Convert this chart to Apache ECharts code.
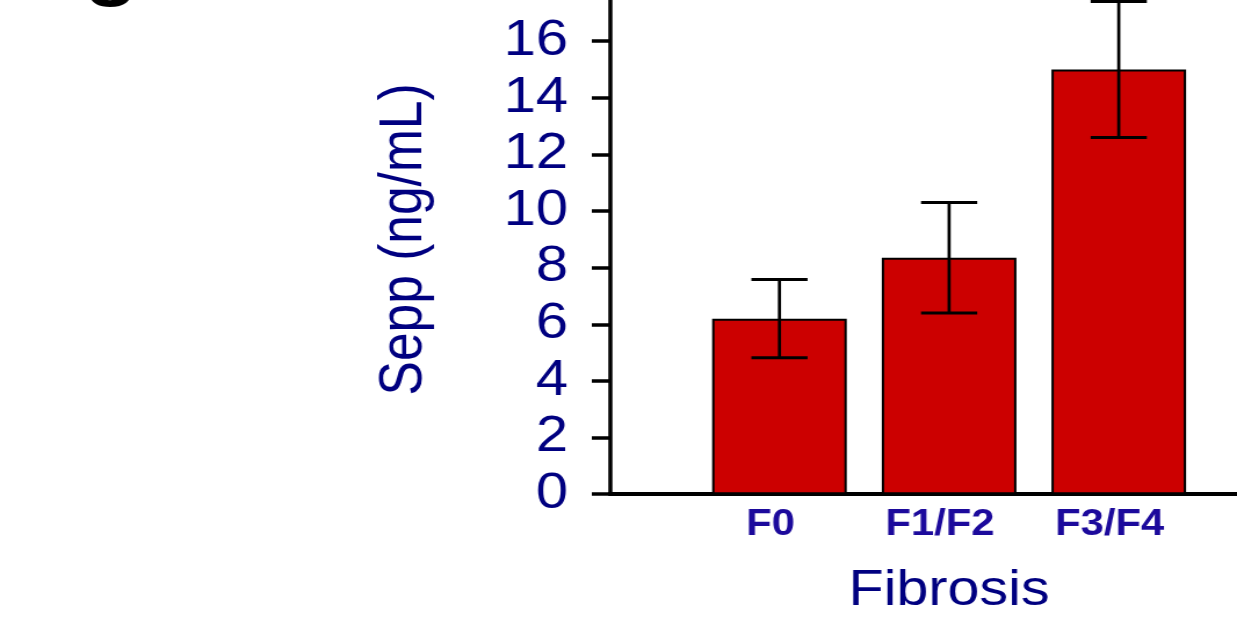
<!DOCTYPE html>
<html>
<head>
<meta charset="utf-8">
<title>Sepp by fibrosis stage</title>
<script src="https://cdn.jsdelivr.net/npm/echarts@6/dist/echarts.min.js"></script>
<style>
  html, body { margin: 0; padding: 0; background: #ffffff; overflow: hidden; }
  #wrap { position: absolute; left: 0; top: 0; width: 1237px; height: 617px; overflow: hidden; }
  /* the figure is drawn on a narrower canvas and widened horizontally */
  #chart { position: absolute; left: 0; top: 0; width: 1066px; height: 617px;
           transform: scaleX(1.16041); transform-origin: 0 0; }
</style>
</head>
<body>
<div id="wrap"><div id="chart"></div></div>
<script>
// Fibrosis groups, mean serum Sepp and the error bar half-length
const categories = ['F0', 'F1/F2', 'F3/F4'];
const means = [6.2, 8.35, 15.0];
const errors = [1.38, 1.95, 2.4];
// value axis
const yMin = 0;
const yMax = 18;
const yStep = 2;

const FONT = 'Liberation Sans, Arial, sans-serif';
const NAVY = '#000080';

// one empty slot on each side of the groups along the x axis
const axisCategories = [''].concat(categories, [' ']);
const barData = means.map((v, i) => [i + 1, v]);
const errData = means.map((v, i) => [i + 1, v - errors[i], v + errors[i]]);

const chart = echarts.init(document.getElementById('chart'), null, { renderer: 'canvas' });

chart.setOption({
  animation: false,
  backgroundColor: '#ffffff',
  grid: { left: 525.5, right: -44.3, top: -15.4, bottom: 122.8, containLabel: false, outerBoundsMode: 'none' },
  graphic: [{
    type: 'text',
    x: 73,
    y: 9,
    silent: true,
    style: { text: 'g', fontSize: 75, fontWeight: 'bold', fontFamily: FONT, fill: '#000000', verticalAlign: 'bottom' }
  }],
  xAxis: {
    type: 'category',
    data: axisCategories,
    boundaryGap: false,
    axisLine: { show: true, lineStyle: { color: '#000000', width: 4 } },
    axisTick: { show: false },
    splitLine: { show: false },
    axisLabel: { interval: 0, margin: 13, fontSize: 36, fontWeight: 'bold', color: '#1c0a9c',
                 fontFamily: FONT, padding: [0, 15.6, 0, 0] },
    name: 'Fibrosis',
    nameLocation: 'middle',
    nameGap: 72,
    nameTextStyle: { fontSize: 49.5, color: NAVY, fontFamily: FONT }
  },
  yAxis: {
    type: 'value',
    min: yMin,
    max: yMax,
    interval: yStep,
    axisLine: { show: true, lineStyle: { color: '#000000', width: 3.5 } },
    axisTick: { show: true, inside: false, length: 15.5, lineStyle: { color: '#000000', width: 3.5 } },
    splitLine: { show: false },
    axisLabel: { margin: 36, fontSize: 50, color: NAVY, fontFamily: FONT, showMaxLabel: false },
    name: 'Sepp (ng/mL)',
    nameLocation: 'middle',
    nameGap: 151,
    nameTextStyle: { fontSize: 51.5, color: NAVY, fontFamily: FONT }
  },
  series: [
    {
      type: 'bar',
      data: barData,
      barWidth: 116,
      itemStyle: { color: '#cc0000', borderColor: '#000000', borderWidth: 2 },
      z: 2
    },
    {
      type: 'custom',
      data: errData,
      z: 3,
      renderItem: function (params, api) {
        const x = api.value(0);
        const top = api.coord([x, api.value(2)]);
        const bottom = api.coord([x, api.value(1)]);
        const half = 24.2;
        const capStyle = { stroke: '#000000', lineWidth: 3 };
        return {
          type: 'group',
          children: [
            { type: 'line', shape: { x1: top[0], y1: top[1], x2: bottom[0], y2: bottom[1] },
              style: { stroke: '#000000', lineWidth: 2.7 } },
            { type: 'line', shape: { x1: top[0] - half, y1: top[1], x2: top[0] + half, y2: top[1] }, style: capStyle },
            { type: 'line', shape: { x1: bottom[0] - half, y1: bottom[1], x2: bottom[0] + half, y2: bottom[1] }, style: capStyle }
          ]
        };
      }
    }
  ]
});
</script>
</body>
</html>
